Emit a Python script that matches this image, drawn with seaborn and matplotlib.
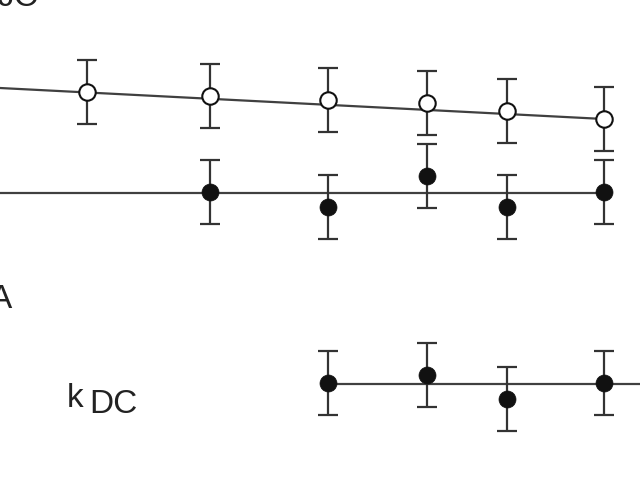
import numpy as np
import pandas as pd
import seaborn as sns
import matplotlib.pyplot as plt

sns.set_style('white')
plt.rcParams['font.family'] = ['Liberation Sans', 'DejaVu Sans']

# upper series (open circles)
open_x = [8.7, 21.0, 32.8, 42.7, 50.7, 60.4]
open_y = [38.8, 38.4, 38.0, 37.7, 36.9, 36.1]
open_err = [3.2, 3.2, 3.2, 3.2, 3.2, 3.2]
open_fit_x = [0, 60.4]
open_fit_y = [39.2, 36.1]

# middle series (filled circles)
mid_x = [21.0, 32.8, 42.7, 50.7, 60.4]
mid_y = [28.8, 27.3, 30.4, 27.3, 28.8]
mid_err = [3.2, 3.2, 3.2, 3.2, 3.2]
mid_fit_x = [0, 60.4]
mid_fit_y = [28.7, 28.7]

# lower series, kDC (filled circles)
kdc_x = [32.8, 42.7, 50.7, 60.4]
kdc_y = [9.7, 10.5, 8.1, 9.7]
kdc_err = [3.2, 3.2, 3.2, 3.2]
kdc_fit_x = [32.8, 64]
kdc_fit_y = [9.6, 9.6]

fig = plt.figure(figsize=(6.4, 4.8), dpi=100)
ax = fig.add_axes([0, 0, 1, 1])

line_col = '#404040'
for fx, fy in [(open_fit_x, open_fit_y), (mid_fit_x, mid_fit_y), (kdc_fit_x, kdc_fit_y)]:
    sns.lineplot(x=fx, y=fy, ax=ax, color=line_col, linewidth=1.6, zorder=1)

for xs, ys, es in [(open_x, open_y, open_err), (mid_x, mid_y, mid_err), (kdc_x, kdc_y, kdc_err)]:
    ax.errorbar(xs, ys, yerr=es, fmt='none', ecolor='#333333', elinewidth=1.6,
                capsize=7, capthick=1.6, zorder=2)

sns.scatterplot(x=open_x, y=open_y, ax=ax, s=140, color='white', edgecolor='#111111',
                linewidth=1.5, zorder=3)
sns.scatterplot(x=mid_x + kdc_x, y=mid_y + kdc_y, ax=ax, s=150, color='#111111',
                edgecolor='#111111', linewidth=0.5, zorder=3)

ax.text(-0.3, 47.4, 'JC', fontsize=24, ha='left', va='baseline', color='#222222')
ax.text(1.2, 17.2, 'A', fontsize=24, ha='right', va='baseline', color='#222222')
ax.text(6.7, 7.3, 'k', fontsize=24, ha='left', va='baseline', color='#222222')
ax.text(8.9, 6.7, 'DC', fontsize=24, ha='left', va='baseline', color='#222222')

ax.set_xlim(0, 64)
ax.set_ylim(0, 48)
ax.axis('off')

plt.savefig('out.png', dpi=100)
